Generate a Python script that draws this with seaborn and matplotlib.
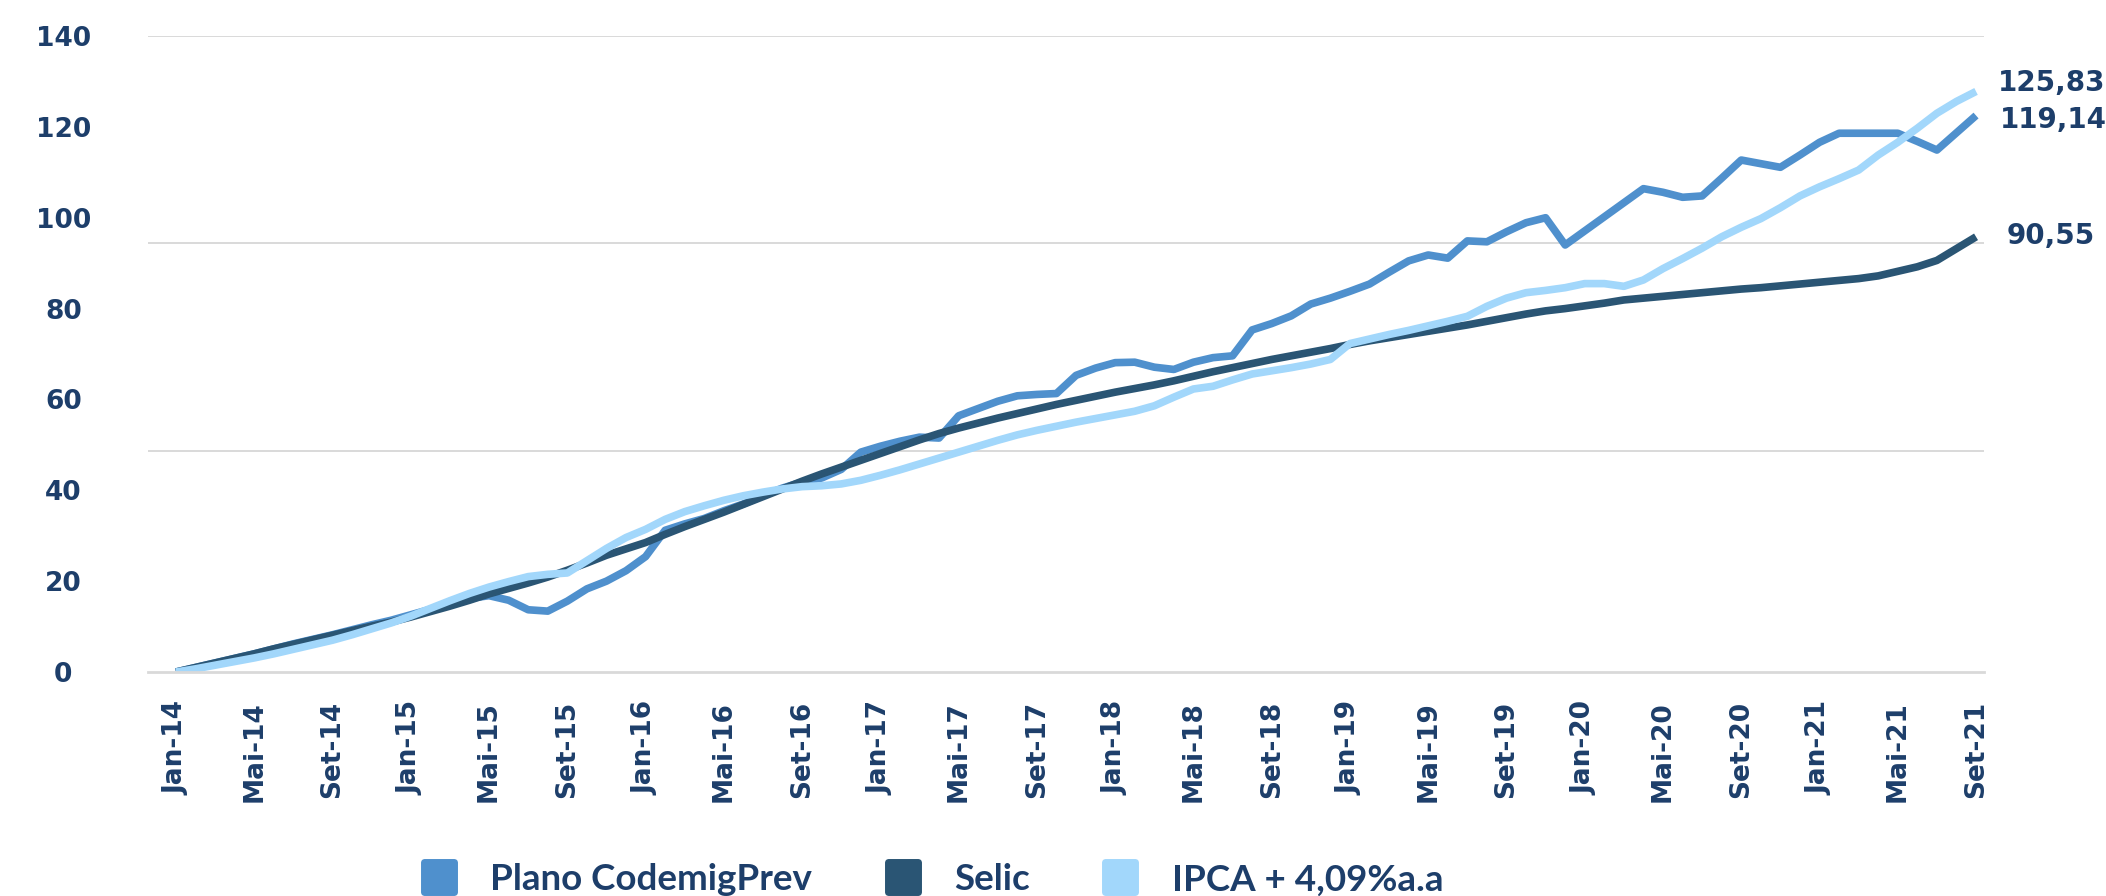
import matplotlib.pyplot as plt
from matplotlib.lines import Line2D
from matplotlib.markers import MarkerStyle
import seaborn as sns
import pandas as pd
import numpy as np

# Series names, colours and the values printed at the end of each line
SERIES = ["Plano CodemigPrev", "Selic", "IPCA + 4,09%a.a"]
COLORS = ["#4F90CD", "#2A5574", "#A2D7FB"]
END_LABELS = ["119,14", "90,55", "125,83"]
NAVY = "#1D3E6A"

TICK_LABELS = ["Jan-14", "Mai-14", "Set-14", "Jan-15", "Mai-15", "Set-15",
               "Jan-16", "Mai-16", "Set-16", "Jan-17", "Mai-17", "Set-17",
               "Jan-18", "Mai-18", "Set-18", "Jan-19", "Mai-19", "Set-19",
               "Jan-20", "Mai-20", "Set-20", "Jan-21", "Mai-21", "Set-21"]
Y_TICKS = [0, 20, 40, 60, 80, 100, 120, 140]
GRID_LEVELS = [48.6, 94.4, 140]

# Monthly values Jan-14 .. Set-21
plano = [0.0, 1.0, 2.0, 3.0, 4.0, 5.1, 6.2, 7.2, 8.2, 9.3, 10.4, 11.4,
         12.6, 13.8, 15.0, 16.2, 16.8, 15.8, 13.7, 13.4, 15.6, 18.3, 20.0, 22.3,
         25.4, 31.2, 32.6, 33.8, 35.5, 37.0, 38.8, 40.5, 41.8, 42.7, 44.6, 48.4,
         49.7, 50.8, 51.7, 51.5, 56.4, 58.0, 59.6, 60.8, 61.1, 61.3, 65.3, 66.9,
         68.1, 68.2, 67.1, 66.6, 68.2, 69.2, 69.6, 75.3, 76.7, 78.4, 81.0, 82.3,
         83.8, 85.4, 88.0, 90.5, 91.8, 91.1, 94.9, 94.7, 96.9, 98.9, 100.0, 94.0,
         97.1, 100.2, 103.3, 106.4, 105.6, 104.5, 104.8, 108.7, 112.7, 111.9, 111.1, 113.8,
         116.6, 118.6, 118.6, 118.6, 118.6, 116.8, 114.9, 118.7, 122.5]

selic = [0.0, 1.0, 2.0, 3.0, 4.0, 5.1, 6.1, 7.1, 8.1, 9.1, 10.1, 11.0,
         12.1, 13.3, 14.5, 15.8, 17.2, 18.4, 19.6, 20.9, 22.4, 24.0, 25.7, 27.1,
         28.5, 30.3, 32.0, 33.6, 35.2, 36.9, 38.6, 40.3, 42.0, 43.6, 45.1, 46.6,
         48.1, 49.6, 51.1, 52.5, 53.7, 54.8, 55.9, 56.9, 57.9, 58.9, 59.8, 60.7,
         61.6, 62.4, 63.2, 64.1, 65.1, 66.1, 67.0, 67.9, 68.8, 69.6, 70.4, 71.2,
         72.1, 72.9, 73.6, 74.3, 75.0, 75.7, 76.4, 77.2, 78.0, 78.8, 79.5, 80.0,
         80.6, 81.2, 81.9, 82.3, 82.7, 83.1, 83.5, 83.9, 84.3, 84.6, 85.0, 85.4,
         85.8, 86.2, 86.6, 87.2, 88.2, 89.2, 90.6, 93.2, 95.8]

ipca = [0.0, 0.7, 1.5, 2.3, 3.1, 4.0, 5.0, 6.0, 7.0, 8.2, 9.5, 10.8,
        12.3, 14.0, 15.7, 17.3, 18.7, 19.9, 21.0, 21.5, 21.8, 24.5, 27.2, 29.6,
        31.4, 33.6, 35.3, 36.6, 37.8, 38.8, 39.6, 40.3, 40.8, 41.0, 41.4, 42.2,
        43.3, 44.5, 45.8, 47.1, 48.4, 49.7, 51.0, 52.2, 53.2, 54.1, 55.0, 55.8,
        56.6, 57.4, 58.6, 60.5, 62.3, 62.9, 64.3, 65.6, 66.3, 67.0, 67.8, 68.8,
        72.3, 73.3, 74.3, 75.2, 76.2, 77.2, 78.3, 80.5, 82.3, 83.5, 84.0, 84.6,
        85.5, 85.5, 84.9, 86.3, 88.8, 91.0, 93.3, 95.8, 97.9, 99.8, 102.2, 104.8,
        106.8, 108.6, 110.5, 113.8, 116.6, 119.7, 123.0, 125.6, 127.8]

# Offsets (pixels) of the end labels from the last point of each line
END_OFFSETS = [(24, -4), (31, 1), (22, 8)]

sns.set_style("white")
plt.rcParams["font.family"] = ["DejaVu Sans"]

n = len(plano)
df = pd.DataFrame({
    "mes": np.tile(np.arange(n), 3),
    "valor": plano + selic + ipca,
    "serie": np.repeat(SERIES, n),
})

fig = plt.figure(figsize=(21.06, 8.96), dpi=100)
ax = fig.add_axes([0.0703, 0.25, 0.8718, 0.7098])

# gridlines (drawn under the lines)
for g in GRID_LEVELS:
    ax.axhline(g, color="#D9D9D9", lw=1.4, zorder=0)

sns.lineplot(data=df, x="mes", y="valor", hue="serie", hue_order=SERIES,
             palette=COLORS, linewidth=5.5, legend=False, ax=ax,
             solid_capstyle="butt", solid_joinstyle="round")

ax.set_xlim(-1.43, 92.41)
ax.set_ylim(0, 140)
ax.set_xlabel("")
ax.set_ylabel("")

for side in ["top", "right", "left"]:
    ax.spines[side].set_visible(False)
ax.spines["bottom"].set_color("#D9D9D9")
ax.spines["bottom"].set_linewidth(2.0)

ax.set_xticks(range(0, n, 4))
ax.set_xticklabels(TICK_LABELS, rotation=90, fontsize=19, fontweight="bold", color=NAVY)
ax.tick_params(axis="x", length=0, pad=21)

ax.set_yticks(Y_TICKS)
ax.set_yticklabels([str(v) for v in Y_TICKS], fontsize=19, fontweight="bold", color=NAVY)
ax.tick_params(axis="y", length=0, pad=61)
for lbl in ax.get_yticklabels():
    lbl.set_horizontalalignment("center")

# value labels at the end of each line
for vals, lbl, off in zip([plano, selic, ipca], END_LABELS, END_OFFSETS):
    ax.annotate(lbl, xy=(n - 1, vals[-1]), xytext=off, textcoords="offset pixels",
                ha="left", va="center", fontsize=20, fontweight="bold",
                color=NAVY, annotation_clip=False)

# legend with rounded squares
handles = [Line2D([], [], ls="none", marker=MarkerStyle("s", joinstyle="round"),
                  markersize=22, markeredgewidth=5, color=c) for c in COLORS]
fig.legend(handles, SERIES, loc="center", bbox_to_anchor=(0.442, 0.018), ncol=3,
           frameon=False, prop={"family": "Lato", "weight": "bold", "size": 26.5},
           labelcolor=NAVY, handlelength=1.1, handletextpad=0.85, columnspacing=1.9)

fig.savefig("out.png", dpi=100)
plt.close()
